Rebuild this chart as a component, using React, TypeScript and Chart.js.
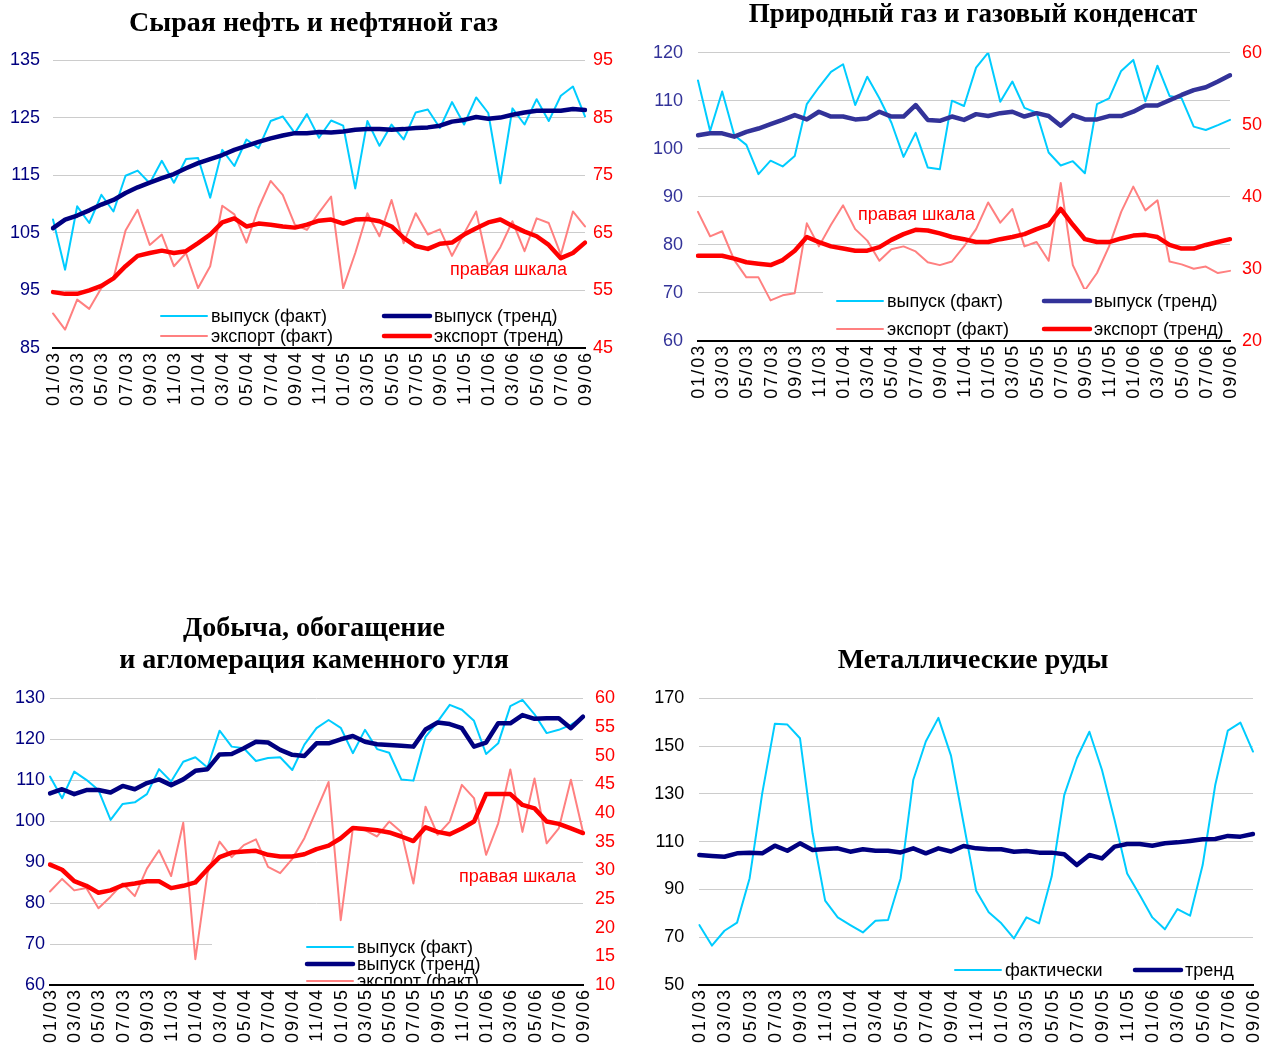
import React, { useEffect, useRef } from "react";
import { Chart, registerables } from "chart.js";
Chart.register(...registerables);

const months = [
  "01/03","02/03","03/03","04/03","05/03","06/03","07/03","08/03","09/03","10/03","11/03","12/03",
  "01/04","02/04","03/04","04/04","05/04","06/04","07/04","08/04","09/04","10/04","11/04","12/04",
  "01/05","02/05","03/05","04/05","05/05","06/05","07/05","08/05","09/05","10/05","11/05","12/05",
  "01/06","02/06","03/06","04/06","05/06","06/06","07/06","08/06","09/06",
];

// Panel 1: crude oil and petroleum gas
const oilOutputFact = [107.3, 98.6, 109.6, 106.7, 111.6, 108.7, 114.9, 115.8, 113.6, 117.5, 113.7, 117.8, 118.0, 111.1, 119.4, 116.6, 121.2, 119.7, 124.4, 125.2, 122.3, 125.6, 121.5, 124.5, 123.6, 112.7, 124.4, 120.1, 123.8, 121.2, 125.9, 126.4, 123.2, 127.7, 123.8, 128.5, 125.8, 113.6, 126.6, 123.8, 128.2, 124.4, 128.8, 130.4, 125.2];
const oilOutputTrend = [105.8, 107.3, 108.0, 108.9, 109.9, 110.7, 111.9, 112.9, 113.7, 114.5, 115.2, 116.2, 117.1, 117.8, 118.5, 119.4, 120.1, 120.8, 121.4, 121.9, 122.3, 122.3, 122.5, 122.4, 122.6, 122.9, 123.0, 123.0, 122.9, 123.0, 123.2, 123.3, 123.6, 124.3, 124.6, 125.1, 124.8, 125.0, 125.5, 125.9, 126.2, 126.2, 126.2, 126.5, 126.3];
const oilExportFact = [51.0, 48.2, 53.4, 51.8, 55.4, 57.1, 65.4, 69.0, 62.9, 64.7, 59.2, 61.5, 55.4, 59.2, 69.7, 68.2, 63.3, 69.3, 74.0, 71.6, 66.4, 65.5, 68.5, 71.3, 55.4, 61.5, 68.4, 64.4, 70.7, 63.2, 68.4, 64.7, 65.6, 61.0, 64.9, 68.7, 59.2, 62.5, 67.0, 61.8, 67.5, 66.7, 61.2, 68.7, 66.1];
const oilExportTrend = [54.7, 54.4, 54.4, 55.0, 55.8, 57.1, 59.2, 61.0, 61.5, 61.9, 61.5, 61.8, 63.2, 64.7, 66.8, 67.5, 66.1, 66.6, 66.4, 66.1, 65.9, 66.4, 67.1, 67.3, 66.6, 67.3, 67.4, 67.0, 66.1, 64.1, 62.7, 62.2, 63.1, 63.3, 64.7, 65.8, 66.8, 67.3, 66.2, 65.2, 64.4, 62.9, 60.6, 61.5, 63.3];

// Panel 2: natural gas and gas condensate
const gasOutputFact = [114.2, 103.7, 111.9, 102.8, 100.8, 94.7, 97.5, 96.3, 98.5, 109.3, 112.8, 116.0, 117.6, 109.1, 115.0, 110.5, 105.4, 98.3, 103.3, 96.1, 95.7, 110.0, 108.9, 116.9, 120.0, 109.8, 114.0, 108.5, 107.5, 99.2, 96.5, 97.4, 94.9, 109.3, 110.5, 116.2, 118.5, 109.9, 117.3, 111.0, 110.5, 104.6, 103.9, 104.9, 106.0];
const gasOutputTrend = [102.8, 103.2, 103.2, 102.5, 103.5, 104.2, 105.1, 106.0, 107.0, 106.1, 107.7, 106.7, 106.7, 106.1, 106.3, 107.7, 106.7, 106.7, 109.1, 106.0, 105.8, 106.7, 106.0, 107.2, 106.8, 107.4, 107.7, 106.7, 107.4, 106.8, 104.8, 107.0, 106.1, 106.1, 106.8, 106.8, 107.7, 109.0, 109.0, 110.1, 111.2, 112.2, 112.8, 114.0, 115.3];
const gasExportFact = [37.9, 34.5, 35.2, 31.2, 28.8, 28.8, 25.6, 26.3, 26.6, 36.3, 33.1, 36.1, 38.8, 35.5, 33.9, 31.1, 32.7, 33.1, 32.4, 30.9, 30.5, 31.0, 33.1, 35.5, 39.2, 36.4, 38.3, 33.1, 33.7, 31.1, 41.9, 30.5, 27.0, 29.4, 33.1, 37.9, 41.4, 38.1, 39.5, 31.0, 30.6, 30.0, 30.3, 29.4, 29.7];
const gasExportTrend = [31.8, 31.8, 31.8, 31.4, 30.9, 30.7, 30.5, 31.2, 32.5, 34.4, 33.7, 33.1, 32.8, 32.5, 32.5, 33.0, 34.0, 34.8, 35.4, 35.3, 34.9, 34.4, 34.1, 33.7, 33.7, 34.1, 34.4, 34.8, 35.5, 36.1, 38.3, 36.1, 34.1, 33.7, 33.7, 34.2, 34.6, 34.7, 34.4, 33.3, 32.8, 32.8, 33.3, 33.7, 34.1];

// Panel 3: coal
const coalOutputFact = [110.9, 105.6, 112.1, 110.1, 107.6, 100.3, 104.2, 104.6, 106.6, 112.7, 109.7, 114.5, 115.6, 113.1, 122.1, 118.2, 117.8, 114.7, 115.4, 115.6, 112.5, 118.7, 122.7, 124.7, 122.8, 116.6, 122.3, 117.6, 116.7, 110.2, 109.9, 120.6, 124.3, 128.4, 127.2, 124.5, 116.4, 119.0, 128.1, 129.6, 126.1, 121.5, 122.3, 123.5, 125.4];
const coalOutputTrend = [106.8, 107.8, 106.6, 107.6, 107.6, 107.0, 108.6, 107.8, 109.3, 110.2, 108.8, 110.2, 112.3, 112.7, 116.3, 116.4, 117.8, 119.4, 119.2, 117.4, 116.2, 115.9, 119.0, 119.0, 120.0, 120.8, 119.4, 118.8, 118.6, 118.4, 118.2, 122.4, 124.1, 123.7, 122.7, 118.2, 119.2, 123.9, 123.9, 125.9, 125.0, 125.1, 125.1, 122.7, 125.5];
const coalExportFact = [26.3, 28.5, 26.5, 26.9, 23.4, 25.4, 27.7, 25.5, 30.3, 33.5, 29.0, 38.3, 14.5, 29.5, 35.0, 32.3, 34.4, 35.4, 30.6, 29.5, 32.0, 35.6, 40.5, 45.4, 21.3, 37.3, 37.0, 35.9, 38.5, 36.7, 27.7, 41.1, 36.2, 38.5, 44.9, 42.6, 32.7, 38.2, 47.6, 36.7, 46.0, 34.7, 37.3, 45.8, 36.7];
const coalExportTrend = [31.0, 30.1, 28.1, 27.3, 26.1, 26.5, 27.4, 27.7, 28.1, 28.1, 26.9, 27.3, 27.9, 30.2, 32.3, 33.1, 33.3, 33.4, 32.7, 32.4, 32.4, 32.8, 33.7, 34.3, 35.6, 37.4, 37.2, 37.0, 36.6, 35.9, 35.1, 37.5, 36.7, 36.3, 37.3, 38.5, 43.3, 43.3, 43.3, 41.4, 40.8, 38.5, 38.1, 37.3, 36.5];

// Panel 4: metal ores
const oreFact = [75.1, 66.5, 72.7, 76.1, 94.7, 130.2, 159.3, 159.0, 153.3, 113.5, 85.3, 78.3, 75.1, 72.0, 76.9, 77.2, 94.7, 135.8, 151.9, 161.8, 146.0, 117.7, 89.5, 80.4, 75.8, 69.5, 78.3, 75.8, 95.4, 129.5, 144.9, 156.0, 140.0, 119.1, 96.7, 87.7, 78.3, 73.3, 81.8, 79.0, 100.2, 133.7, 156.5, 159.8, 147.7];
const oreTrend = [104.4, 104.0, 103.7, 105.1, 105.4, 105.1, 108.3, 106.2, 109.3, 106.5, 106.9, 107.2, 105.8, 106.8, 106.2, 106.2, 105.5, 107.2, 105.1, 107.2, 105.9, 108.2, 107.2, 106.8, 106.8, 105.8, 106.1, 105.4, 105.4, 104.7, 100.2, 104.4, 103.0, 107.9, 109.0, 109.0, 108.3, 109.3, 109.7, 110.3, 111.0, 111.1, 112.4, 112.1, 113.2];

const SKY = "#00CCFF";
const NAVY = "#000080";
const SLATE = "#333399";
const PINK = "#FF8080";
const RED = "#FF0000";
const FONT = '"Liberation Sans", Arial, sans-serif';
const GRID = "#cccccc";

function line(label: string, data: number[], color: string, width: number, axis: string, order: number) {
  return {
    label,
    data,
    borderColor: color,
    backgroundColor: color,
    borderWidth: width,
    pointRadius: 0,
    tension: 0,
    fill: false,
    yAxisID: axis,
    order,
    borderJoinStyle: "round",
    borderCapStyle: "round",
  };
}

type AxisCfg = { min: number; max: number; step: number; color: string; pad: number };
type LegendItem = { text: string; color: string; width: number; x: number; y: number };
type PanelCfg = {
  canvas: { x: number; y: number; w: number; h: number };
  area: { l: number; t: number; r: number; b: number };
  left: AxisCfg;
  right?: AxisCfg;
  datasets: any[];
  legendBox: [number, number, number, number];
  legend: LegendItem[];
  note?: { text: string; x: number; y: number };
};

function Panel({ cfg }: { cfg: PanelCfg }) {
  const ref = useRef<HTMLCanvasElement>(null);
  useEffect(() => {
    const c = cfg.canvas;
    const area = cfg.area;
    const ox = c.x;
    const oy = c.y;
    const overlay = {
      id: "overlay",
      afterDraw(chart: any) {
        const ctx = chart.ctx as CanvasRenderingContext2D;
        // category labels along the x axis (every other month), rotated
        const xs = chart.scales.x;
        ctx.save();
        ctx.font = `18px ${FONT}`;
        ctx.fillStyle = "#000000";
        ctx.textAlign = "right";
        ctx.textBaseline = "middle";
        (ctx as any).letterSpacing = "2px";
        for (let i = 0; i < months.length; i += 2) {
          const px = xs.getPixelForValue(i);
          ctx.save();
          ctx.translate(px, chart.chartArea.bottom + 5);
          ctx.rotate(-Math.PI / 2);
          ctx.fillText(months[i], 2, 1);
          ctx.restore();
        }
        ctx.restore();

        ctx.save();
        const [x1, y1, x2, y2] = cfg.legendBox;
        ctx.beginPath();
        ctx.rect(x1 - ox, y1 - oy, x2 - x1, y2 - y1);
        ctx.fillStyle = "#ffffff";
        ctx.fill();
        ctx.clip();
        ctx.font = `18px ${FONT}`;
        ctx.textBaseline = "middle";
        ctx.textAlign = "left";
        for (const it of cfg.legend) {
          ctx.beginPath();
          ctx.strokeStyle = it.color;
          ctx.lineWidth = it.width;
          ctx.lineCap = "round";
          ctx.moveTo(it.x - ox, it.y - oy);
          ctx.lineTo(it.x + 46 - ox, it.y - oy);
          ctx.stroke();
          ctx.fillStyle = "#000000";
          ctx.fillText(it.text, it.x + 50 - ox, it.y - oy + 1);
        }
        ctx.restore();
        if (cfg.note) {
          ctx.save();
          ctx.font = `18px ${FONT}`;
          ctx.textBaseline = "middle";
          ctx.textAlign = "left";
          ctx.fillStyle = RED;
          ctx.fillText(cfg.note.text, cfg.note.x - ox, cfg.note.y - oy);
          ctx.restore();
        }
      },
    };
    const lmin = cfg.left.min;
    const scales: any = {
      x: {
        type: "category",
        offset: false,
        grid: { display: false, drawTicks: false },
        border: { display: true, color: "#000000", width: 2 },
        ticks: { display: false, autoSkip: false, maxRotation: 90, minRotation: 90 },
        afterFit: (s: any) => {
          s.height = c.h - (area.b - oy);
        },
      },
      y: {
        position: "left",
        min: cfg.left.min,
        max: cfg.left.max,
        border: { display: false },
        grid: {
          drawTicks: false,
          lineWidth: 1,
          color: (ctx: any) => (ctx.tick && ctx.tick.value === lmin ? "rgba(0,0,0,0)" : GRID),
        },
        ticks: {
          stepSize: cfg.left.step,
          padding: cfg.left.pad,
          color: cfg.left.color,
          font: { family: FONT, size: 18 },
        },
        afterFit: (s: any) => {
          s.width = area.l - ox;
        },
      },
    };
    if (cfg.right) {
      const r = cfg.right;
      scales.y1 = {
        position: "right",
        min: r.min,
        max: r.max,
        border: { display: false },
        grid: { display: false, drawTicks: false },
        ticks: {
          stepSize: r.step,
          padding: r.pad,
          color: r.color,
          font: { family: FONT, size: 18 },
        },
        afterFit: (s: any) => {
          s.width = ox + c.w - area.r;
        },
      };
    }
    const chart = new Chart(ref.current as HTMLCanvasElement, {
      type: "line",
      data: { labels: months, datasets: cfg.datasets },
      options: {
        responsive: false,
        maintainAspectRatio: false,
        animation: false,
        layout: {
          padding: {
            top: area.t - oy,
            left: 0,
            bottom: 0,
            right: cfg.right ? 0 : ox + c.w - area.r,
          },
        },
        plugins: { legend: { display: false }, tooltip: { enabled: false }, title: { display: false } },
        scales,
      } as any,
      plugins: [overlay],
    });
    return () => chart.destroy();
  }, []);
  return (
    <canvas
      ref={ref}
      width={cfg.canvas.w}
      height={cfg.canvas.h}
      style={{ position: "absolute", left: cfg.canvas.x, top: cfg.canvas.y, width: cfg.canvas.w, height: cfg.canvas.h }}
    />
  );
}

const panel1: PanelCfg = {
  canvas: { x: 0, y: 30, w: 636, h: 390 },
  area: { l: 53, t: 60, r: 585, b: 348 },
  left: { min: 85, max: 135, step: 10, color: NAVY, pad: 13 },
  right: { min: 45, max: 95, step: 10, color: RED, pad: 8 },
  datasets: [
    line("выпуск (факт)", oilOutputFact, SKY, 2, "y", 2),
    line("выпуск (тренд)", oilOutputTrend, NAVY, 4.5, "y", 0),
    line("экспорт (факт)", oilExportFact, PINK, 2, "y1", 3),
    line("экспорт (тренд)", oilExportTrend, RED, 4.5, "y1", 1),
  ],
  legendBox: [150, 303, 580, 346.5],
  legend: [
    { text: "выпуск (факт)", color: SKY, width: 2, x: 161, y: 316 },
    { text: "выпуск (тренд)", color: NAVY, width: 4.5, x: 384, y: 316 },
    { text: "экспорт (факт)", color: PINK, width: 2, x: 161, y: 336 },
    { text: "экспорт (тренд)", color: RED, width: 4.5, x: 384, y: 336 },
  ],
  note: { text: "правая шкала", x: 450, y: 270 },
};

const panel2: PanelCfg = {
  canvas: { x: 636, y: 22, w: 636, h: 398 },
  area: { l: 698, t: 52.7, r: 1230, b: 340.7 },
  left: { min: 60, max: 120, step: 10, color: SLATE, pad: 15 },
  right: { min: 20, max: 60, step: 10, color: RED, pad: 12 },
  datasets: [
    line("выпуск (факт)", gasOutputFact, SKY, 2, "y", 2),
    line("выпуск (тренд)", gasOutputTrend, SLATE, 4.5, "y", 0),
    line("экспорт (факт)", gasExportFact, PINK, 2, "y1", 3),
    line("экспорт (тренд)", gasExportTrend, RED, 4.5, "y1", 1),
  ],
  legendBox: [823, 289, 1230, 339.5],
  legend: [
    { text: "выпуск (факт)", color: SKY, width: 2, x: 837, y: 301 },
    { text: "выпуск (тренд)", color: SLATE, width: 4.5, x: 1044, y: 301 },
    { text: "экспорт (факт)", color: PINK, width: 2, x: 837, y: 329 },
    { text: "экспорт (тренд)", color: RED, width: 4.5, x: 1044, y: 329 },
  ],
  note: { text: "правая шкала", x: 858, y: 215 },
};

const panel3: PanelCfg = {
  canvas: { x: 0, y: 668, w: 636, h: 412 },
  area: { l: 50, t: 698.3, r: 583, b: 985 },
  left: { min: 60, max: 130, step: 10, color: NAVY, pad: 5 },
  right: { min: 10, max: 60, step: 5, color: RED, pad: 12 },
  datasets: [
    line("выпуск (факт)", coalOutputFact, SKY, 2, "y", 2),
    line("выпуск (тренд)", coalOutputTrend, NAVY, 4.5, "y", 0),
    line("экспорт (факт)", coalExportFact, PINK, 2, "y1", 3),
    line("экспорт (тренд)", coalExportTrend, RED, 4.5, "y1", 1),
  ],
  legendBox: [212, 938, 583, 983.8],
  legend: [
    { text: "выпуск (факт)", color: SKY, width: 2, x: 307, y: 947 },
    { text: "выпуск (тренд)", color: NAVY, width: 4.5, x: 307, y: 964 },
    { text: "экспорт (факт)", color: PINK, width: 2, x: 307, y: 981 },
    { text: "экспорт (тренд)", color: RED, width: 4.5, x: 307, y: 998 },
  ],
  note: { text: "правая шкала", x: 459, y: 877 },
};

const panel4: PanelCfg = {
  canvas: { x: 636, y: 668, w: 636, h: 412 },
  area: { l: 699.3, t: 698.3, r: 1253, b: 985 },
  left: { min: 50, max: 170, step: 20, color: "#000000", pad: 15 },
  datasets: [
    line("фактически", oreFact, SKY, 2, "y", 1),
    line("тренд", oreTrend, NAVY, 4.5, "y", 0),
  ],
  legendBox: [940, 950, 1253, 983.8],
  legend: [
    { text: "фактически", color: SKY, width: 2, x: 955, y: 970 },
    { text: "тренд", color: NAVY, width: 4.5, x: 1135, y: 970 },
  ],
};

const titleBase: React.CSSProperties = {
  position: "absolute",
  fontFamily: '"Liberation Serif", "Times New Roman", serif',
  fontWeight: "bold",
  fontSize: 28,
  lineHeight: "32px",
  textAlign: "center",
  color: "#000",
  whiteSpace: "nowrap",
};

export default function App() {
  return (
    <div style={{ position: "absolute", left: 0, top: 0, width: 1272, height: 1045, overflow: "hidden", background: "#fff" }}>
      <Panel cfg={panel1} />
      <Panel cfg={panel2} />
      <Panel cfg={panel3} />
      <Panel cfg={panel4} />
      <div style={{ ...titleBase, left: 0, width: 627, top: 6 }}>Сырая нефть и нефтяной газ</div>
      <div style={{ ...titleBase, fontSize: 27, left: 660, width: 626, top: -3 }}>Природный газ и газовый конденсат</div>
      <div style={{ ...titleBase, left: 0, width: 628, top: 611 }}>
        Добыча, обогащение
        <br />
        и агломерация каменного угля
      </div>
      <div style={{ ...titleBase, left: 660, width: 626, top: 643 }}>Металлические руды</div>
    </div>
  );
}
